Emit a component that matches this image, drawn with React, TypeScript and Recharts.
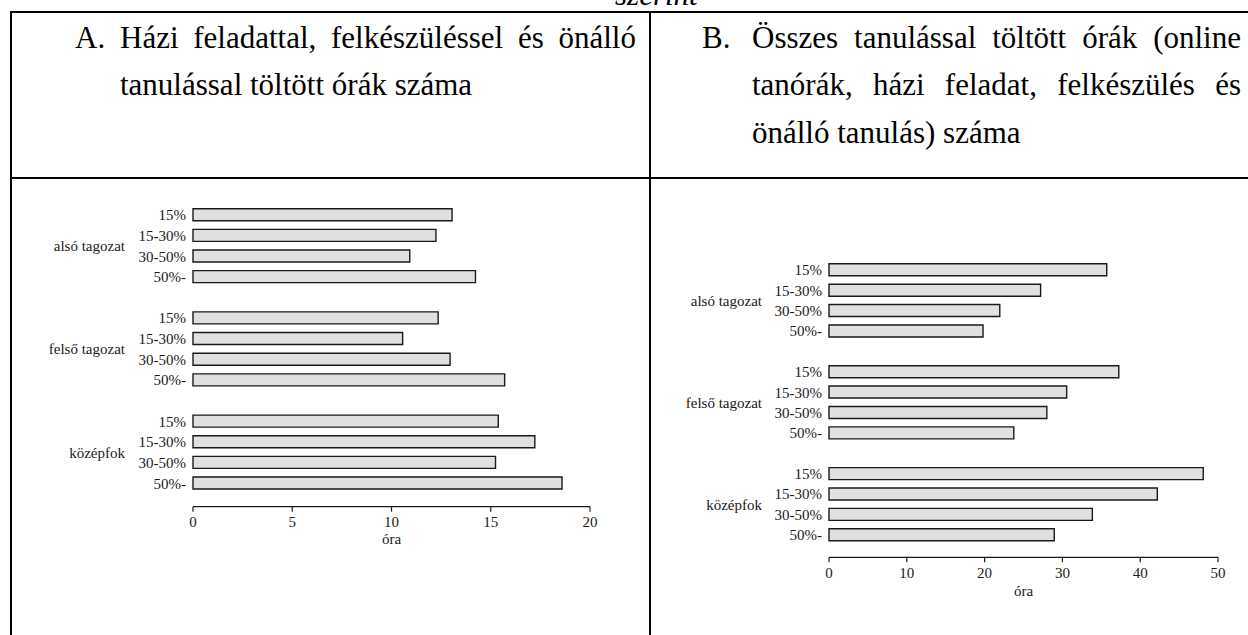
import React from 'react';
import { BarChart, Bar, XAxis, YAxis } from 'recharts';

const groups = ['alsó tagozat', 'felső tagozat', 'középfok'];
const subLabels = ['15%', '15-30%', '30-50%', '50%-'];

const hoursA_also = [13.05, 12.24, 10.92, 14.23];
const hoursA_felso = [12.35, 10.56, 12.95, 15.7];
const hoursA_kozep = [15.38, 17.22, 15.24, 18.59];

const hoursB_also = [35.7, 27.2, 21.95, 19.8];
const hoursB_felso = [37.25, 30.55, 28.0, 23.75];
const hoursB_kozep = [48.1, 42.2, 33.85, 28.95];

const ticksA = [0, 5, 10, 15, 20];
const ticksB = [0, 10, 20, 30, 40, 50];
const axisTitle = 'óra';

const titleA1 = ['Házi', 'feladattal,', 'felkészüléssel', 'és', 'önálló'];
const titleA2 = 'tanulással töltött órák száma';
const titleB1 = ['Összes', 'tanulással', 'töltött', 'órák', '(online'];
const titleB2 = ['tanórák,', 'házi', 'feladat,', 'felkészülés', 'és'];
const titleB3 = 'önálló tanulás) száma';

const FONT = "'Liberation Serif', 'DejaVu Serif', 'Noto Serif', Tinos, serif";
const TXT = '#1a1a1a';
const TITLE_SIZE = 31;
const TITLE_LH = '47px';

type Row = { key: string; group: string; sub: string; value: number | null };

function buildRows(series: number[][]): Row[] {
  const rows: Row[] = [];
  groups.forEach((g, gi) => {
    if (gi > 0) rows.push({ key: `gap${gi}`, group: '', sub: '', value: null });
    subLabels.forEach((s, si) => {
      rows.push({ key: `${g}|${s}`, group: g, sub: s, value: series[gi][si] });
    });
  });
  return rows;
}

type ChartProps = {
  series: number[][];
  ticks: number[];
  max: number;
  width: number;
  height: number;
  yAxisWidth: number;
  marginTop: number;
  marginRight: number;
  padBottom: number;
  xAxisHeight: number;
  labelOffset: number;
  groupGap: number;
};

function GroupedBars(p: ChartProps) {
  const rows = buildRows(p.series);
  const plotH = p.height - p.marginTop - p.xAxisHeight;
  const band = (plotH - p.padBottom) / rows.length;
  const byKey = new Map(rows.map((r) => [r.key, r]));
  const renderTick = (props: any) => {
    const { x, y, payload } = props;
    const row = byKey.get(payload.value);
    if (!row || !row.sub) return <g />;
    return (
      <g>
        <text x={x} y={y} dy="0.35em" textAnchor="end" fontSize={15} fill={TXT} style={{ fontFamily: FONT }}>
          {row.sub}
        </text>
        {row.sub === subLabels[1] && (
          <text
            x={x - p.groupGap}
            y={y + band / 2}
            dy="0.35em"
            textAnchor="end"
            fontSize={15}
            fill={TXT}
            style={{ fontFamily: FONT }}
          >
            {row.group}
          </text>
        )}
      </g>
    );
  };
  return (
    <BarChart
      layout="vertical"
      width={p.width}
      height={p.height}
      data={rows}
      margin={{ top: p.marginTop, right: p.marginRight, bottom: 0, left: 0 }}
      barCategoryGap={0}
      style={{ fontFamily: FONT }}
    >
      <XAxis
        type="number"
        domain={[0, p.max]}
        ticks={p.ticks}
        height={p.xAxisHeight}
        axisLine={{ stroke: TXT, strokeWidth: 1.2 }}
        tickLine={{ stroke: TXT, strokeWidth: 1.2 }}
        tickSize={5}
        tickMargin={5}
        tick={{ fontSize: 15, fill: TXT, style: { fontFamily: FONT } }}
        label={{
          value: axisTitle,
          position: 'insideBottom',
          offset: p.labelOffset,
          fontSize: 15,
          fill: TXT,
          style: { fontFamily: FONT },
        }}
      />
      <YAxis
        type="category"
        dataKey="key"
        width={p.yAxisWidth}
        axisLine={false}
        tickLine={false}
        tickSize={0}
        tickMargin={7}
        interval={0}
        padding={{ top: 0, bottom: p.padBottom }}
        tick={renderTick}
      />
      <Bar
        dataKey="value"
        barSize={12}
        fill="#e0e0e0"
        stroke={TXT}
        strokeWidth={1.4}
        isAnimationActive={false}
      />
    </BarChart>
  );
}

function Justified({ words, left, top, width }: { words: string[]; left: number; top: number; width: number }) {
  return (
    <div
      style={{
        position: 'absolute',
        left,
        top,
        width,
        display: 'flex',
        justifyContent: 'space-between',
        whiteSpace: 'nowrap',
        fontSize: TITLE_SIZE,
        lineHeight: TITLE_LH,
      }}
    >
      {words.map((w, i) => (
        <span key={i}>{w}</span>
      ))}
    </div>
  );
}

function Line({ text, left, top }: { text: string; left: number; top: number }) {
  return (
    <div
      style={{
        position: 'absolute',
        left,
        top,
        fontSize: TITLE_SIZE,
        lineHeight: TITLE_LH,
        whiteSpace: 'nowrap',
      }}
    >
      {text}
    </div>
  );
}

const line = (left: number, top: number, width: number, height: number) => (
  <div style={{ position: 'absolute', left, top, width, height, background: '#000' }} />
);

export default function App() {
  return (
    <div
      style={{
        position: 'fixed',
        left: 0,
        top: 0,
        width: 1248,
        height: 635,
        overflow: 'hidden',
        background: '#fff',
        fontFamily: FONT,
        color: '#000',
      }}
    >
      <div
        style={{
          position: 'absolute',
          left: 615,
          top: -21,
          fontSize: 31,
          lineHeight: '31px',
          fontStyle: 'italic',
          whiteSpace: 'nowrap',
        }}
      >
        szerint
      </div>

      {line(10, 11, 1238, 2)}
      {line(10, 11, 2, 624)}
      {line(649, 11, 2, 624)}
      {line(10, 177, 1238, 2)}

      <Line text="A." left={75} top={14} />
      <Justified words={titleA1} left={120} top={14} width={516} />
      <Line text={titleA2} left={120} top={61} />

      <Line text="B." left={702} top={14} />
      <Justified words={titleB1} left={752} top={14} width={489} />
      <Justified words={titleB2} left={752} top={61} width={489} />
      <Line text={titleB3} left={752} top={109} />

      <div style={{ position: 'absolute', left: 0, top: 190 }}>
        <GroupedBars
          series={[hoursA_also, hoursA_felso, hoursA_kozep]}
          ticks={ticksA}
          max={20}
          width={620}
          height={370}
          yAxisWidth={193}
          marginTop={14.7}
          marginRight={30}
          padBottom={13}
          xAxisHeight={53.3}
          labelOffset={16}
          groupGap={61}
        />
      </div>

      <div style={{ position: 'absolute', left: 640, top: 245 }}>
        <GroupedBars
          series={[hoursB_also, hoursB_felso, hoursB_kozep]}
          ticks={ticksB}
          max={50}
          width={608}
          height={390}
          yAxisWidth={189}
          marginTop={14.8}
          marginRight={30}
          padBottom={12.2}
          xAxisHeight={77.7}
          labelOffset={39}
          groupGap={60}
        />
      </div>
    </div>
  );
}
